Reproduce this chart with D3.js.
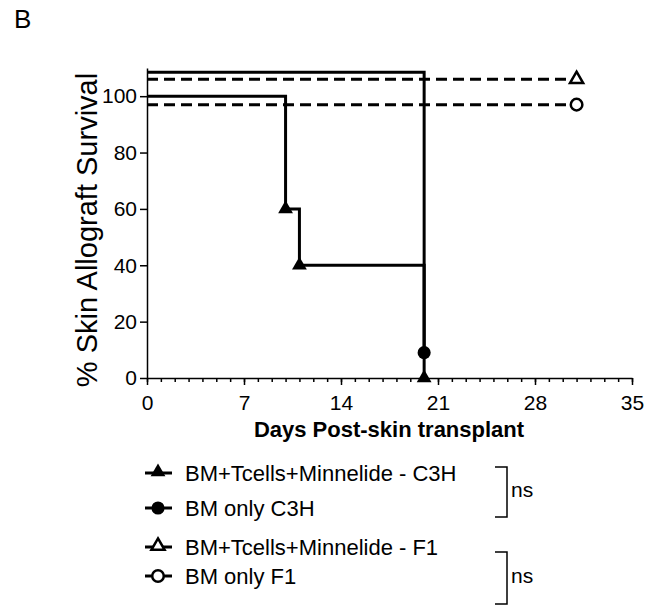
<!DOCTYPE html>
<html>
<head>
<meta charset="utf-8">
<script src="https://d3js.org/d3.v7.min.js"></script>
<style>
  body { margin: 0; background: #fff; }
  text { font-family: "Liberation Sans", Arial, sans-serif; fill: #000; }
</style>
</head>
<body>
<div id="chart"></div>
<script>
// x ticks and y ticks
const xTicks = [0, 7, 14, 21, 28, 35];
const yTicks = [0, 20, 40, 60, 80, 100];

// survival steps as drawn (GraphPad offsets overlapping lines a bit)
const minnelideC3H = [[0, 100], [10, 100], [10, 60], [11, 60], [11, 40], [20, 40], [20, 0]];
const minnelideC3HMarks = [[10, 60], [11, 40], [20, 0]];
const bmOnlyC3H = [[0, 108.5], [20, 108.5], [20, 9]];
const bmOnlyC3HMarks = [[20, 9]];
const minnelideF1 = [[0, 106], [31, 106]];
const minnelideF1Marks = [[31, 106]];
const bmOnlyF1 = [[0, 97], [31, 97]];
const bmOnlyF1Marks = [[31, 97]];

const legendLabels = ["BM+Tcells+Minnelide - C3H", "BM only C3H", "BM+Tcells+Minnelide - F1", "BM only F1"];
const statLabels = ["ns", "ns"];

const series = [
    { pts: minnelideC3H, marks: minnelideC3HMarks, sym: d3.symbolTriangle, filled: true, dash: null },
    { pts: bmOnlyC3H, marks: bmOnlyC3HMarks, sym: d3.symbolCircle, filled: true, dash: null },
    { pts: minnelideF1, marks: minnelideF1Marks, sym: d3.symbolTriangle, filled: false, dash: "11,6" },
    { pts: bmOnlyF1, marks: bmOnlyF1Marks, sym: d3.symbolCircle, filled: false, dash: "11,6" }
];

var svg = d3.select("#chart").append("svg")
    .attr("width", 653)
    .attr("height", 610);

var x = d3.scaleLinear().domain([0, 35]).range([147, 632]);
var y = d3.scaleLinear().domain([0, 110]).range([378, 68]);

function symbolPath(s) {
    if (s.sym === d3.symbolCircle) return d3.symbol().type(s.sym).size(s.filled ? 135 : 105)();
    return d3.symbol().type(s.sym).size(s.filled ? 95 : 75)();
}

svg.append("text").attr("x", 14).attr("y", 28).style("font-size", "26px").text("B");

// x axis
var gx = svg.append("g").attr("transform", "translate(0,378)")
    .call(d3.axisBottom(x).tickValues(xTicks).tickSize(7).tickSizeOuter(0));
gx.selectAll("text").style("font-size", "21px").attr("y", 32).attr("dy", 0);
svg.append("g").attr("transform", "translate(0,378)")
    .call(d3.axisBottom(x).tickValues(d3.range(0, 36)).tickSize(4).tickFormat("").tickSizeOuter(0))
    .select(".domain").remove();

// y axis
var gy = svg.append("g").attr("transform", "translate(147,0)")
    .call(d3.axisLeft(y).tickValues(yTicks).tickSize(7).tickSizeOuter(0));
gy.selectAll("text").style("font-size", "21px").attr("x", -10);

svg.selectAll(".domain, .tick line").attr("stroke", "#000").attr("stroke-width", 1.5);

svg.append("text")
    .attr("x", 389).attr("y", 437)
    .attr("text-anchor", "middle")
    .style("font-size", "22px").style("font-weight", "bold")
    .text("Days Post-skin transplant");

svg.append("text")
    .attr("transform", "translate(97,230) rotate(-90)")
    .attr("text-anchor", "middle")
    .style("font-size", "29px")
    .text("% Skin Allograft Survival");

var line = d3.line().x(d => x(d[0])).y(d => y(d[1]));

series.forEach(s => {
    svg.append("path")
        .attr("d", line(s.pts))
        .attr("fill", "none")
        .attr("stroke", "#000")
        .attr("stroke-width", 3)
        .attr("stroke-dasharray", s.dash);
    svg.selectAll(null).data(s.marks).enter()
        .append("path")
        .attr("d", symbolPath(s))
        .attr("transform", d => "translate(" + x(d[0]) + "," + y(d[1]) + ")")
        .attr("fill", s.filled ? "#000" : "#fff")
        .attr("stroke", "#000")
        .attr("stroke-width", s.filled ? 0 : 2.5);
});

// legend
var legendY = [473, 508, 547, 576];
series.forEach((s, i) => {
    var g = svg.append("g").attr("transform", "translate(0," + legendY[i] + ")");
    g.append("line").attr("x1", 145).attr("x2", 172).attr("y1", 0).attr("y2", 0)
        .attr("stroke", "#000").attr("stroke-width", 3);
    g.append("path")
        .attr("d", symbolPath(s))
        .attr("transform", "translate(158," + (s.sym === d3.symbolTriangle ? -1 : 0) + ")")
        .attr("fill", s.filled ? "#000" : "#fff")
        .attr("stroke", "#000")
        .attr("stroke-width", s.filled ? 0 : 2.5);
    g.append("text").attr("x", 185).attr("y", 0).attr("dy", "0.35em")
        .style("font-size", "22px").text(legendLabels[i]);
});

// significance brackets
var brackets = [[467, 517], [552, 604]];
brackets.forEach((b, i) => {
    svg.append("path")
        .attr("d", "M495," + b[0] + "H507V" + b[1] + "H495")
        .attr("fill", "none").attr("stroke", "#000").attr("stroke-width", 1.5);
    svg.append("text").attr("x", 511).attr("y", (b[0] + b[1]) / 2 + 5)
        .style("font-size", "21px").text(statLabels[i]);
});
</script>
</body>
</html>
